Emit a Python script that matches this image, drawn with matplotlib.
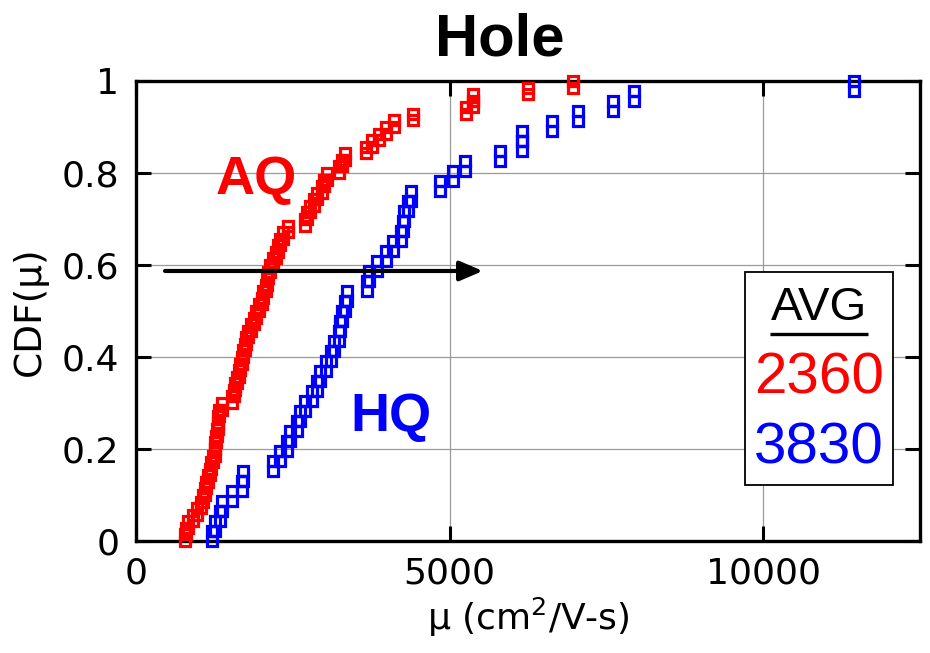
import matplotlib
matplotlib.use("Agg")
import matplotlib.pyplot as plt
import numpy as np
from matplotlib.patches import Rectangle

# ---- data (mobility values, cm^2/V-s), sorted ----
aq_mobility = [780, 800, 830, 910, 970, 1040, 1070, 1100, 1120, 1150,
               1180, 1200, 1230, 1260, 1260, 1280, 1290, 1310, 1310, 1330,
               1370, 1530, 1570, 1580, 1610, 1650, 1660, 1690, 1710, 1740,
               1760, 1790, 1840, 1880, 1920, 1960, 2010, 2030, 2080, 2090,
               2110, 2140, 2190, 2240, 2270, 2300, 2350, 2430, 2700, 2730,
               2780, 2840, 2890, 2960, 3000, 3050, 3230, 3290, 3340, 3670,
               3770, 3870, 3980, 4110, 4410, 5260, 5370, 5370, 6250, 6960]
hq_mobility = [1210, 1260, 1340, 1370, 1530, 1690, 1710,
               2190, 2300, 2400, 2460, 2560, 2620, 2700, 2810, 2880, 2940,
               3030, 3110, 3160, 3230, 3260, 3290, 3340, 3370,
               3690, 3720, 3850, 3990, 4090, 4220, 4250, 4280, 4340, 4390,
               4840, 5050, 5250, 5810, 6160, 6160, 6630, 7040, 7600, 7940, 11450]
series_labels = ["AQ", "HQ"]
avg_values = ["2360", "3830"]
x_ticks = [0, 5000, 10000]
y_ticks = [0, 0.2, 0.4, 0.6, 0.8, 1]
y_tick_labels = ["0", "0.2", "0.4", "0.6", "0.8", "1"]

RED = "#ff0000"
BLUE = "#0000ff"

fig = plt.figure(figsize=(9.3, 6.53), dpi=100)
ax = fig.add_axes([136 / 930, 112 / 653, 784 / 930, 460 / 653])


def cdf_corners(vals):
    v = np.sort(np.asarray(vals, dtype=float))
    n = len(v)
    i = np.arange(n)
    xs = np.concatenate([v, v])
    ys = np.concatenate([i / n, (i + 1) / n])
    return xs, ys


for vals, col in [(aq_mobility, RED), (hq_mobility, BLUE)]:
    xs, ys = cdf_corners(vals)
    ax.plot(xs, ys, linestyle="none", marker="s", ms=7.6, mew=2.3,
            mfc="none", mec=col, zorder=3, clip_on=False)

ax.set_xlim(0, 12500)
ax.set_ylim(0, 1)
ax.set_xticks(x_ticks)
ax.set_xticklabels([str(t) for t in x_ticks])
ax.set_yticks(y_ticks)
ax.set_yticklabels(y_tick_labels)
ax.grid(True, color="#9a9a9a", lw=0.9, zorder=0)
ax.set_axisbelow(True)

for s in ax.spines.values():
    s.set_linewidth(2.4)
    s.set_color("black")
ax.tick_params(axis="both", direction="in", length=11, width=2.2,
               top=True, right=True, labelsize=26, colors="black")
ax.tick_params(axis="y", pad=12)
ax.tick_params(axis="x", pad=11)
for lab in ax.get_xticklabels() + ax.get_yticklabels():
    lab.set_fontfamily("DejaVu Sans")

ax.set_xlabel("μ (cm$^2$/V-s)", fontsize=26, labelpad=4)
ax.set_ylabel("CDF(μ)", fontsize=27, labelpad=10)
fig.text(500 / 930, 1 - 40 / 653, "Hole", fontsize=43, fontweight="bold",
         fontfamily="Liberation Sans", ha="center", va="center")

# series labels
ax.text(1917, 0.785, series_labels[0], color=RED, fontsize=39,
        fontweight="bold", fontfamily="Liberation Sans",
        ha="center", va="center", zorder=4)
ax.text(4057, 0.27, series_labels[1], color=BLUE, fontsize=39,
        fontweight="bold", fontfamily="Liberation Sans",
        ha="center", va="center", zorder=4)

# arrow
ax.annotate("", xy=(5530, 0.587), xytext=(463, 0.587),
            arrowprops=dict(arrowstyle="-|>,head_length=0.7,head_width=0.3",
                            lw=3, color="black", mutation_scale=20,
                            shrinkA=0, shrinkB=0), zorder=4)

# AVG box (axes coordinates from pixel positions)
def ax_xy(px, py):
    return (px - 136) / 784, (541 - py) / 460

bx0, by0 = ax_xy(745, 485)
bx1, by1 = ax_xy(893, 272)
ax.add_patch(Rectangle((bx0, by0), bx1 - bx0, by1 - by0, transform=ax.transAxes,
                       facecolor="white", edgecolor="black", lw=1.3, zorder=5))
cx, cy = ax_xy(819, 308)
ax.text(cx, cy, "AVG", transform=ax.transAxes, fontsize=34,
        fontfamily="Liberation Sans", ha="center", va="center", zorder=6)
ux0, uy = ax_xy(770, 334)
ux1, _ = ax_xy(868, 334)
ax.plot([ux0, ux1], [uy, uy], transform=ax.transAxes, color="black",
        lw=2.4, zorder=6, solid_capstyle="butt")
cx, cy = ax_xy(819, 378)
ax.text(cx, cy, avg_values[0], transform=ax.transAxes, fontsize=42,
        color=RED, fontfamily="Liberation Sans", ha="center", va="center", zorder=6)
cx, cy = ax_xy(819, 448)
ax.text(cx, cy, avg_values[1], transform=ax.transAxes, fontsize=42,
        color=BLUE, fontfamily="Liberation Sans", ha="center", va="center", zorder=6)

fig.savefig("out.png", dpi=100, facecolor="white")
